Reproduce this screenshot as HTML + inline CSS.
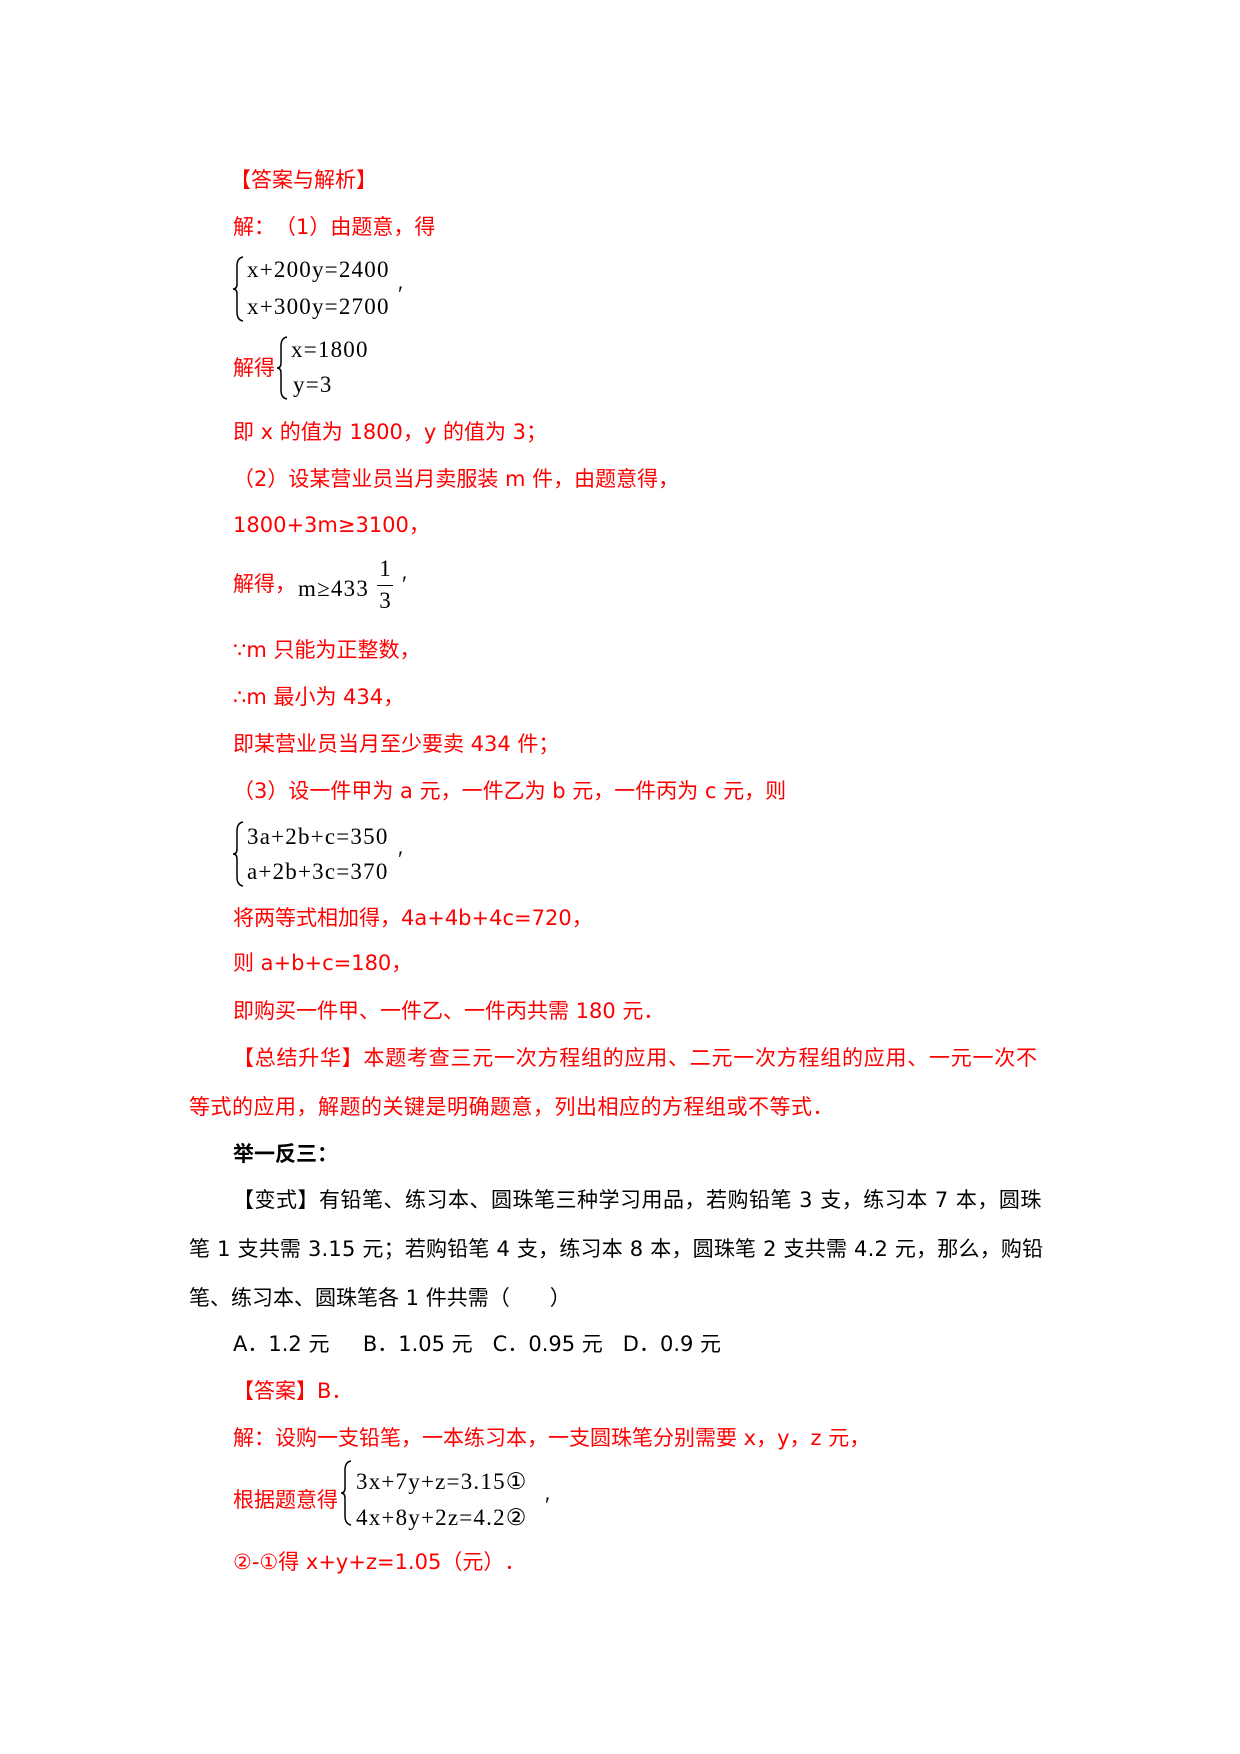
<!DOCTYPE html>
<html><head><meta charset="utf-8"><style>
body{margin:0;background:#fff;width:1240px;height:1754px;position:relative;overflow:hidden}
.l{position:absolute;white-space:nowrap;line-height:26px;height:26px;font-family:"DejaVu Sans","Noto Sans CJK SC",sans-serif;font-size:21px;color:#f00;text-spacing-trim:space-all}
.k{color:#000}
.m{position:absolute;white-space:nowrap;font-family:"Liberation Serif","DejaVu Serif",serif;font-size:23px;color:#000;line-height:26px;letter-spacing:1.2px}
.b{position:absolute}
</style></head><body>
<div class="l" style="left:230px;top:167px">【答案与解析】</div>
<div class="l" style="left:233px;top:214px">解：（1）由题意，得</div>
<svg class="b" style="left:232px;top:256px" width="14" height="66"><path d="M11 1 Q5 2 5 10 L5 28 Q5 33 1 33 Q5 33 5 38 L5 56 Q5 64 11 65" fill="none" stroke="#000" stroke-width="1.5"/></svg>
<div class="m" style="left:247px;top:257px">x+200y=2400</div>
<div class="m" style="left:247px;top:294px">x+300y=2700</div>
<div class="m" style="left:398px;top:282px">′</div>
<div class="l" style="left:233px;top:355px">解得</div>
<svg class="b" style="left:276px;top:336px" width="14" height="64"><path d="M11 1 Q5 2 5 10 L5 27 Q5 32 1 32 Q5 32 5 37 L5 54 Q5 62 11 63" fill="none" stroke="#000" stroke-width="1.5"/></svg>
<div class="m" style="left:291px;top:337px">x=1800</div>
<div class="m" style="left:293px;top:372px">y=3</div>
<div class="l" style="left:233px;top:419px">即 x 的值为 1800，y 的值为 3；</div>
<div class="l" style="left:233px;top:466px">（2）设某营业员当月卖服装 m 件，由题意得，</div>
<div class="l" style="left:233px;top:512px">1800+3m≥3100，</div>
<div class="l" style="left:233px;top:571px">解得，</div>
<div class="m" style="left:298px;top:576px">m≥433</div>
<div class="m" style="left:377px;top:556px;width:16px;text-align:center;letter-spacing:0">1</div>
<div class="b" style="left:377px;top:585px;width:16px;height:1px;background:#000"></div>
<div class="m" style="left:377px;top:588px;width:16px;text-align:center;letter-spacing:0">3</div>
<div class="m" style="left:402px;top:572px">′</div>
<div class="l" style="left:233px;top:637px">∵m 只能为正整数，</div>
<div class="l" style="left:233px;top:684px">∴m 最小为 434，</div>
<div class="l" style="left:233px;top:731px">即某营业员当月至少要卖 434 件；</div>
<div class="l" style="left:233px;top:778px">（3）设一件甲为 a 元，一件乙为 b 元，一件丙为 c 元，则</div>
<svg class="b" style="left:232px;top:821px" width="14" height="66"><path d="M11 1 Q5 2 5 10 L5 28 Q5 33 1 33 Q5 33 5 38 L5 56 Q5 64 11 65" fill="none" stroke="#000" stroke-width="1.5"/></svg>
<div class="m" style="left:247px;top:824px">3a+2b+c=350</div>
<div class="m" style="left:247px;top:859px">a+2b+3c=370</div>
<div class="m" style="left:398px;top:847px">′</div>
<div class="l" style="left:233px;top:905px">将两等式相加得，4a+4b+4c=720，</div>
<div class="l" style="left:233px;top:950px">则 a+b+c=180，</div>
<div class="l" style="left:233px;top:998px">即购买一件甲、一件乙、一件丙共需 180 元．</div>
<div class="l" style="left:233px;top:1045px;letter-spacing:0.75px">【总结升华】本题考查三元一次方程组的应用、二元一次方程组的应用、一元一次不</div>
<div class="l" style="left:189px;top:1094px;letter-spacing:0.5px">等式的应用，解题的关键是明确题意，列出相应的方程组或不等式．</div>
<div class="l k" style="left:233px;top:1141px;font-weight:bold">举一反三：</div>
<div class="l k" style="left:233px;top:1187px;letter-spacing:0.5px">【变式】有铅笔、练习本、圆珠笔三种学习用品，若购铅笔 3 支，练习本 7 本，圆珠</div>
<div class="l k" style="left:189px;top:1236px;letter-spacing:0.2px">笔 1 支共需 3.15 元；若购铅笔 4 支，练习本 8 本，圆珠笔 2 支共需 4.2 元，那么，购铅</div>
<div class="l k" style="left:189px;top:1285px">笔、练习本、圆珠笔各 1 件共需（&nbsp;&nbsp;&nbsp;&nbsp;&nbsp;&nbsp;）</div>
<div class="l k" style="left:233px;top:1331px">A．1.2 元&nbsp;&nbsp;&nbsp;&nbsp; B．1.05 元&nbsp;&nbsp; C．0.95 元&nbsp;&nbsp; D．0.9 元</div>
<div class="l" style="left:233px;top:1378px">【答案】B．</div>
<div class="l" style="left:233px;top:1425px">解：设购一支铅笔，一本练习本，一支圆珠笔分别需要 x，y，z 元，</div>
<div class="l" style="left:233px;top:1487px">根据题意得</div>
<svg class="b" style="left:340px;top:1460px" width="14" height="66"><path d="M11 1 Q5 2 5 10 L5 28 Q5 33 1 33 Q5 33 5 38 L5 56 Q5 64 11 65" fill="none" stroke="#000" stroke-width="1.5"/></svg>
<div class="m" style="left:356px;top:1469px">3x+7y+z=3.15①</div>
<div class="m" style="left:356px;top:1505px">4x+8y+2z=4.2②</div>
<div class="m" style="left:545px;top:1493px">′</div>
<div class="l" style="left:233px;top:1549px">②-①得 x+y+z=1.05（元）．</div>
</body></html>
